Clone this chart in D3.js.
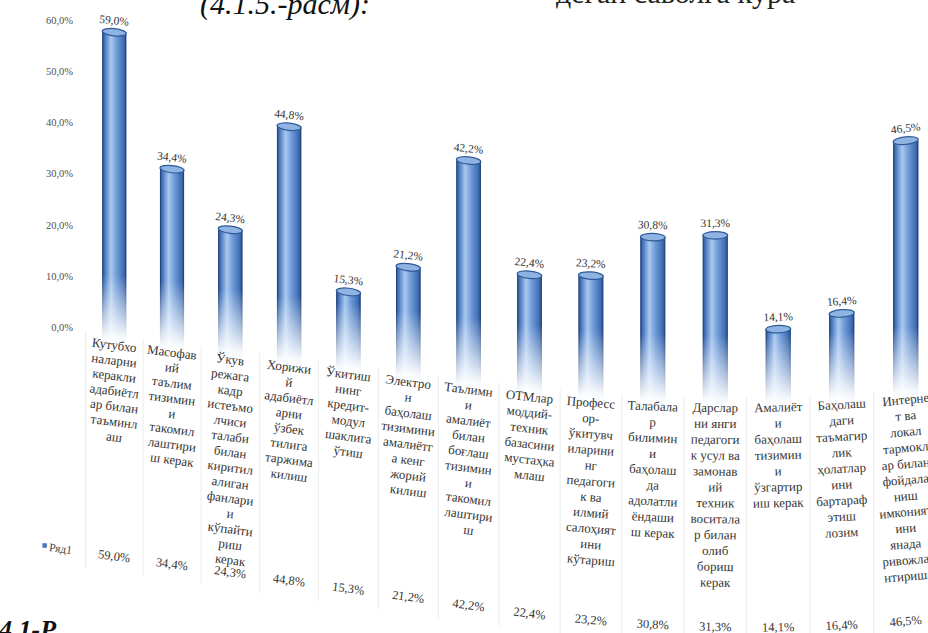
<!DOCTYPE html>
<html><head><meta charset="utf-8">
<script src="https://cdn.jsdelivr.net/npm/d3@7"></script>
<style>
html,body{margin:0;padding:0;background:#fff;overflow:hidden}
svg{display:block}
</style>
</head><body>
<svg id="c" width="928" height="633"></svg>
<script>
// ---- data ----
const categories = [
  "Кутубхо\nналарни\nкеракли\nадабиётл\nар билан\nтаъминл\nаш",
  "Масофав\nий\nтаълим\nтизимин\nи\nтакомил\nлаштири\nш керак",
  "Ўкув\nрежага\nкадр\nистеъмо\nлчиси\nталаби\nбилан\nкиритил\nалиган\nфанлари\nи\nкўпайти\nриш\nкерак",
  "Хорижи\nй\nадабиётл\nарни\nўзбек\nтилига\nтаржима\nкилиш",
  "Ўкитиш\nнинг\nкредит-\nмодул\nшаклига\nўтиш",
  "Электро\nн\nбаҳолаш\nтизимини\nамалиётг\nа кенг\nжорий\nкилиш",
  "Таълимн\nи\nамалиёт\nбилан\nбоғлаш\nтизимин\nи\nтакомил\nлаштири\nш",
  "ОТМлар\nмоддий-\nтехник\nбазасини\nмустаҳка\nмлаш",
  "Професс\nор-\nўкитувч\nиларини\nнг\nпедагоги\nк ва\nилмий\nсалоҳият\nини\nкўтариш",
  "Талабала\nр\nбилимин\nи\nбаҳолаш\nда\nадолатли\nёндаши\nш керак",
  "Дарслар\nни янги\nпедагоги\nк усул ва\nзамонав\nий\nтехник\nвоситала\nр билан\nолиб\nбориш\nкерак",
  "Амалиёт\nи\nбаҳолаш\nтизимин\nи\nўзгартир\nиш керак",
  "Баҳолаш\nдаги\nтаъмагир\nлик\nҳолатлар\nини\nбартараф\nэтиш\nлозим",
  "Интерне\nт ва\nлокал\nтармокл\nар билан\nфойдала\nниш\nимконият\nини\nянада\nривожла\nнтириш"
];
const values = [59.0, 34.4, 24.3, 44.8, 15.3, 21.2, 42.2, 22.4, 23.2, 30.8, 31.3, 14.1, 16.4, 46.5];
const yTicks = [0, 10, 20, 30, 40, 50, 60];
const seriesName = "Ряд1";
const captionTop = "(4.1.5.-расм):";
const captionRight = "деган саволга кўра";
const captionBottom = "4.1-Р";

// ---- helpers ----
const FONT = '"Liberation Serif","Times New Roman",serif';
const fmt = v => d3.format(".1f")(v).replace(".", ",") + "%";
const svg = d3.select("#c");

// flat layout scales
const x = d3.scaleBand().domain(d3.range(categories.length)).range([85.5, 85.5 + 14 * 57.5]).padding(0);
const y = d3.scaleLinear().domain([0, 60]).range([0, -318]);
const yAxisScale = d3.scaleLinear().domain([0, 60]).range([327, 20]);

// photo perspective / page warp
const warpX = fx => { const t = (fx - 114.25) / 57.5; return fx + 0.26 * t * t; };
const S = X => 1 + 0.05 * (X - 115) / 792;
const B = X => 345 + 0.125 * (X - 115) - 2.7e-4 * Math.pow(Math.max(0, X - 500), 2);
const P = (fx, fy) => { const X = warpX(fx); return [X, B(X) + fy * S(X)]; };
const ang = (fx, fy) => {
  const a = P(fx - 1, fy), b = P(fx + 1, fy);
  return Math.atan2(b[1] - a[1], b[0] - a[0]) * 180 / Math.PI;
};
const place = (fx, fy) => {
  const p = P(fx, fy);
  return `translate(${p[0].toFixed(2)},${p[1].toFixed(2)}) rotate(${ang(fx, fy).toFixed(2)})`;
};
const cx = i => x(i) + x.bandwidth() / 2;

// ---- defs ----
const defs = svg.append("defs");
const cyl = defs.append("linearGradient").attr("id", "cyl").attr("x1", 0).attr("x2", 1).attr("y1", 0).attr("y2", 0);
[[0, "#294f8c"], [0.1, "#4675bb"], [0.36, "#a9c8ef"], [0.6, "#6f9bd8"], [0.88, "#416fb4"], [1, "#284d8a"]]
  .forEach(([o, c]) => cyl.append("stop").attr("offset", o).attr("stop-color", c));
const fade = defs.append("linearGradient").attr("id", "fade").attr("x1", 0).attr("x2", 0).attr("y1", 0).attr("y2", 1);
fade.append("stop").attr("offset", 0).attr("stop-color", "#fff").attr("stop-opacity", 0);
fade.append("stop").attr("offset", 0.85).attr("stop-color", "#fff").attr("stop-opacity", 0.95);
fade.append("stop").attr("offset", 1).attr("stop-color", "#fff").attr("stop-opacity", 1);

// ---- captions (page text around the chart) ----
svg.append("text").attr("x", 200).attr("y", 14).style("font-family", FONT).attr("font-style", "italic")
  .attr("font-size", 30).attr("fill", "#111").text(captionTop);
svg.append("text").attr("x", 556).attr("y", 3).style("font-family", FONT)
  .attr("font-size", 30).attr("fill", "#222").text(captionRight);
svg.append("text").attr("x", -1).attr("y", 638).style("font-family", FONT).attr("font-style", "italic")
  .attr("font-weight", "bold").attr("font-size", 26).attr("fill", "#111").text(captionBottom);

// ---- table grid (faint) ----
const edges = d3.range(categories.length + 1).map(i => x(i) ?? (x(categories.length - 1) + x.bandwidth()));
svg.append("g").selectAll("line").data(edges).join("line")
  .attr("x1", d => P(d, -10)[0]).attr("x2", d => P(d, 228)[0])
  .attr("y1", d => P(d, -10)[1]).attr("y2", d => P(d, 228)[1])
  .attr("stroke", "#ececec").attr("stroke-width", 1);

// ---- y axis ----
const ax = svg.append("g").attr("transform", "translate(73,0)")
  .call(d3.axisLeft(yAxisScale).tickValues(yTicks).tickSize(0).tickPadding(0).tickFormat(fmt));
ax.select(".domain").remove();
ax.selectAll("text").style("font-family", FONT).attr("font-size", 10.5).attr("fill", "#505050");

// ---- bars (cylinders) ----
const bars = svg.append("g").selectAll("g").data(values).join("g");
bars.each(function (v, i) {
  const g = d3.select(this);
  const X = warpX(cx(i)), sc = S(X), w = 24 * sc;
  const yb = B(X), yt = yb + y(v) * sc;
  g.append("rect").attr("x", X - w / 2).attr("y", yt).attr("width", w).attr("height", yb - yt)
    .attr("fill", "url(#cyl)");
  g.append("line").attr("x1", X - w / 2 + 0.5).attr("x2", X - w / 2 + 0.5).attr("y1", yt).attr("y2", yb)
    .attr("stroke", "#23467f").attr("stroke-width", 1);
  g.append("line").attr("x1", X + w / 2 - 0.5).attr("x2", X + w / 2 - 0.5).attr("y1", yt).attr("y2", yb)
    .attr("stroke", "#23467f").attr("stroke-width", 1);
  const fh = Math.min(70 * sc, yb - yt);
  g.append("rect").attr("x", X - w / 2 - 1).attr("y", yb - fh).attr("width", w + 2).attr("height", fh + 3)
    .attr("fill", "url(#fade)");
  const a = ang(cx(i), y(v));
  g.append("ellipse").attr("transform", `translate(${X},${yt}) rotate(${a})`)
    .attr("rx", w / 2).attr("ry", 3.6 * sc).attr("fill", "#8fb3e3").attr("stroke", "#2f5a9a").attr("stroke-width", 1.2);
  g.append("text").attr("transform", place(cx(i), y(v) - 12))
    .attr("text-anchor", "middle").attr("dy", "0.35em").style("font-family", FONT)
    .attr("font-size", 11.5).attr("fill", "#333").text(fmt(v));
});

// ---- data table: category labels ----
const lh = 15.3;
const lab = svg.append("g");
categories.forEach((c, i) => {
  c.split("\n").forEach((line, k) => {
    lab.append("text").attr("transform", place(cx(i), k * lh))
      .attr("text-anchor", "middle").attr("dy", "0.35em").style("font-family", FONT)
      .attr("font-size", 13).attr("fill", "#353535").text(line);
  });
});

// ---- data table: value row ----
const rowY = 211;
svg.append("g").selectAll("text").data(values).join("text")
  .attr("transform", (v, i) => place(cx(i), rowY))
  .attr("text-anchor", "middle").attr("dy", "0.35em").style("font-family", FONT)
  .attr("font-size", 12.5).attr("fill", "#353535").text(fmt);

// legend key in table
const lp = P(44, rowY);
svg.append("rect").attr("x", lp[0] - 2).attr("y", lp[1] - 3).attr("width", 4.5).attr("height", 4.5).attr("fill", "#4a78c0");
svg.append("text").attr("transform", place(49, rowY)).attr("dy", "0.35em").style("font-family", FONT)
  .attr("font-size", 11.5).attr("fill", "#444").text(seriesName);
</script>
</body></html>
